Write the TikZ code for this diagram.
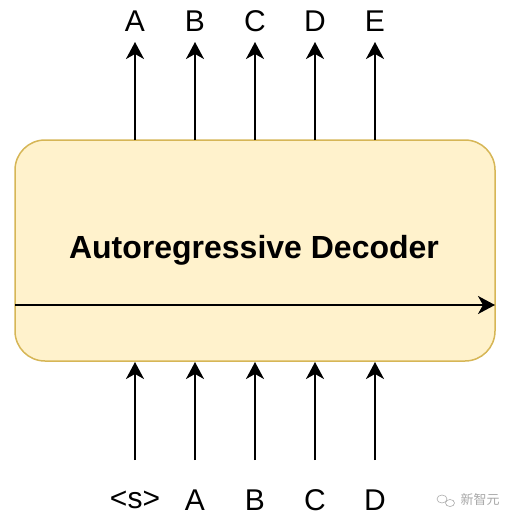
\documentclass[tikz,border=0pt]{standalone}
\usepackage{fontspec}
\setmainfont{Liberation Sans}
\newfontfamily\cjk{Noto Sans CJK SC}
\usetikzlibrary{arrows.meta}
\definecolor{boxfill}{HTML}{FFF2CC}
\definecolor{boxdraw}{HTML}{D6B656}
\definecolor{wm}{HTML}{A8A8A8}
\tikzset{
  decbox/.style={draw=boxdraw, fill=boxfill, line width=1.5pt, rounded corners=30pt},
  flow/.style={line width=2pt, -{Stealth[length=17pt, width=18pt, inset=5pt]}},
  tok/.style={font=\fontsize{30}{32}\selectfont, inner sep=0pt, anchor=center},
}
\begin{document}
\begin{tikzpicture}[x=1pt,y=-1pt]
\useasboundingbox (0,0) rectangle (514,522);
\draw[decbox] (15,140) rectangle (495,361);
\node[font=\bfseries\fontsize{32}{34}\selectfont, inner sep=0pt] (title) at (254,250) {Autoregressive Decoder};
\coordinate (hl) at (15,305);
\coordinate (hr) at (495,305);
\draw[flow] (hl) -- (hr);
\foreach \x/\n/\t/\b in {135/1/A/{<s>},195/2/B/A,255/3/C/B,315/4/D/C,375/5/E/D}{
  \node[tok] (out\n) at (\x,21) {\t};
  \node[tok] (in\n) at (\x,500) {\b};
  \coordinate (otop\n) at (\x,42);
  \coordinate (obot\n) at (\x,140);
  \coordinate (itop\n) at (\x,362);
  \coordinate (ibot\n) at (\x,460);
  \draw[flow] (obot\n) -- (otop\n);
  \draw[flow] (ibot\n) -- (itop\n);
}
\node[font=\cjk\fontsize{13}{14}\selectfont, text=wm, inner sep=0pt] (wmark) at (480,500) {新智元};
\draw[wm, line width=0.6pt] (442,499) ellipse (5pt and 4pt);
\draw[wm, line width=0.6pt] (450,503) ellipse (4.5pt and 3.5pt);
\end{tikzpicture}
\end{document}
